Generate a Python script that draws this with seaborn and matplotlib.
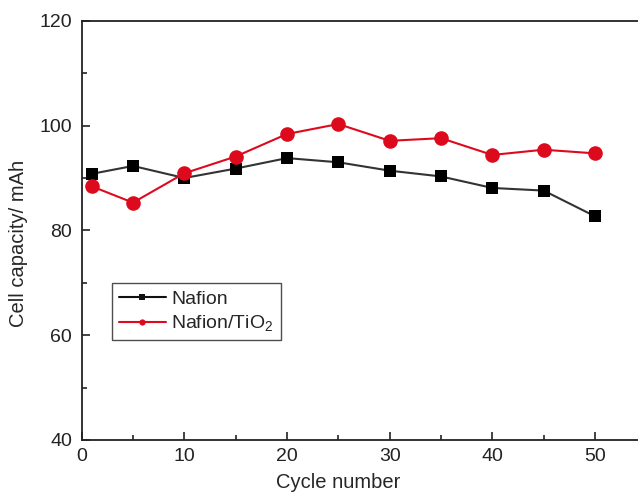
import pandas as pd
import matplotlib.pyplot as plt
from matplotlib.ticker import MultipleLocator
import seaborn as sns

# datos
cycles = [1, 5, 10, 15, 20, 25, 30, 35, 40, 45, 50]
nafion = [90.8, 92.3, 90.0, 91.8, 93.8, 93.0, 91.4, 90.3, 88.1, 87.6, 82.7]
nafion_tio2 = [88.4, 85.3, 90.9, 94.1, 98.4, 100.3, 97.1, 97.6, 94.4, 95.4, 94.7]
series_names = ['Nafion', 'Nafion/TiO$_2$']

df = pd.DataFrame({
    'Cycle': cycles * 2,
    'Capacity': nafion + nafion_tio2,
    'Membrane': [series_names[0]] * len(cycles) + [series_names[1]] * len(cycles),
})

sns.set_style('ticks')
plt.rcParams['font.family'] = ['Liberation Sans', 'DejaVu Sans']
plt.rcParams['mathtext.default'] = 'regular'

fig = plt.figure(figsize=(6.38, 4.92), dpi=100)
ax = fig.add_axes([0.128, 0.1057, 0.885, 0.852])

sns.lineplot(data=df, x='Cycle', y='Capacity', hue='Membrane', style='Membrane',
             hue_order=series_names, style_order=series_names,
             palette={series_names[0]: '#111111', series_names[1]: '#dd0a1e'},
             markers={series_names[0]: 's', series_names[1]: 'o'},
             dashes=False, linewidth=1.5, markeredgewidth=0,
             ax=ax)
for line, ms in zip(ax.get_lines(), [9, 10.5]):
    line.set_markersize(ms)
ax.get_lines()[0].set_color('#333333')
ax.get_lines()[0].set_markerfacecolor('black')
ax.get_lines()[0].set_markeredgecolor('black')

ax.set_xlim(0, 55)
ax.set_ylim(40, 120)
ax.set_xticks([0, 10, 20, 30, 40, 50])
ax.xaxis.set_minor_locator(MultipleLocator(5))
ax.yaxis.set_major_locator(MultipleLocator(20))
ax.yaxis.set_minor_locator(MultipleLocator(10))
ax.tick_params(which='both', direction='in', top=False, right=False,
               labelsize=14, width=1.2, colors='#222222')
ax.tick_params(which='major', length=6)
ax.tick_params(which='minor', length=3.5)
ax.tick_params(axis='x', pad=6)
ax.tick_params(axis='y', pad=7)
for s in ax.spines.values():
    s.set_linewidth(1.3)
    s.set_color('#222222')

ax.set_xlabel('Cycle number', fontsize=14.5)
ax.set_ylabel('Cell capacity/ mAh', fontsize=14.5)
ax.xaxis.set_label_coords(0.454, -0.078)
ax.yaxis.set_label_coords(-0.095, 0.47)

leg = ax.legend(loc='upper left', bbox_to_anchor=(0.054, 0.374), borderaxespad=0,
                fontsize=14, frameon=True, fancybox=False, markerscale=0.75,
                handlelength=2.4, handletextpad=0.3, borderpad=0.35,
                labelspacing=0.3)
leg.get_frame().set_edgecolor('#222222')
leg.get_frame().set_linewidth(1.0)

plt.savefig('out.png', dpi=100)
